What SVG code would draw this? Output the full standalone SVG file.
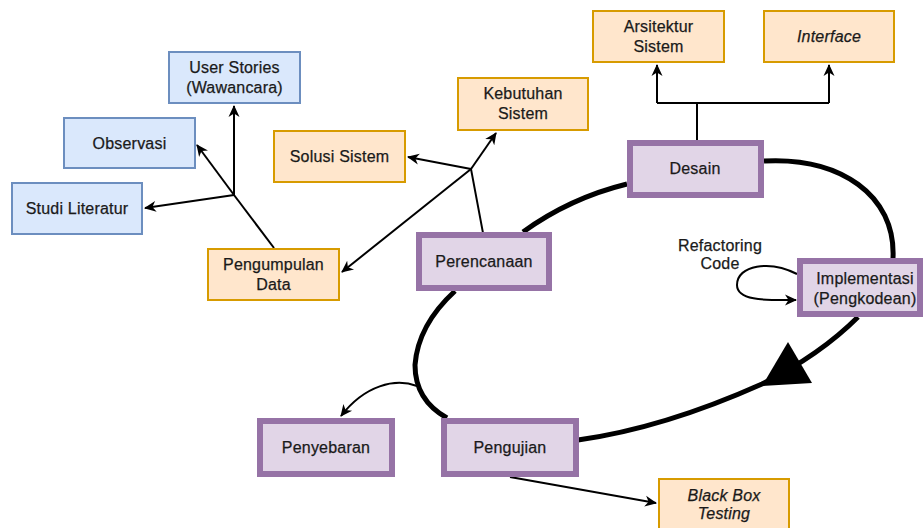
<svg xmlns="http://www.w3.org/2000/svg" width="923" height="528" viewBox="0 0 923 528">
<style>
text{font-family:"Liberation Sans",Arial,Helvetica,sans-serif;font-size:16px;fill:#1a1a1a;stroke:#1a1a1a;stroke-width:0.25px;text-anchor:middle;letter-spacing:0.2px}
.it{font-style:italic}
.blue{fill:#dae8fc;stroke:#6c8ebf;stroke-width:2}
.orange{fill:#ffe6cc;stroke:#d79b00;stroke-width:2}
.purple{fill:#e1d5e7;stroke:#9673a6;stroke-width:6}
.thin{fill:none;stroke:#000;stroke-width:2}
.thick{fill:none;stroke:#000;stroke-width:5}
.arr{marker-end:url(#ah)}
</style>
<defs>
<marker id="ah" markerUnits="userSpaceOnUse" markerWidth="14" markerHeight="14" refX="11" refY="7" orient="auto">
<path d="M0,1.5 L12,7 L0,12.5 L3.5,7 z" fill="#000"/>
</marker>
</defs>
<g id="connectors">
<path class="thin" d="M274,248 L234,195"/>
<path class="thin arr" d="M234,195 L197,145"/>
<path class="thin arr" d="M234,195 L234,106"/>
<path class="thin arr" d="M234,195 L145,208"/>
<path class="thin" d="M483,233 L471,169"/>
<path class="thin arr" d="M471,169 L408,157"/>
<path class="thin arr" d="M471,169 L496,133"/>
<path class="thin arr" d="M471,169 L342,272"/>
<path class="thin" d="M697,140 V103 M657,103 H829"/>
<path class="thin arr" d="M657,103 V65"/>
<path class="thin arr" d="M829,103 V65"/>
<path class="thick" d="M523,232 Q570,198 627,184"/>
<path class="thick" d="M764,161 C840,157 896,195 893,258"/>
<path class="thick" d="M858,317 C830,345 800,365 762,384 C715,405 650,430 578,440"/>
<polygon points="788,342 762,386 812,383" fill="#000"/>
<path class="thick" d="M455,291 Q418,325 415,365 Q415,400 447,418"/>
<path class="thin arr" d="M417,386 C395,378 365,385 341,416"/>
<path class="thin arr" d="M510,477 L656,503"/>
<path class="thin arr" d="M797,274 C770,260 737,265 737,285 C737,302 770,300 796,300"/>
</g>
<g id="user-stories"><rect class="blue" x="169" y="52" width="131" height="51"/><text x="234.5" y="73">User Stories</text><text x="234.5" y="93">(Wawancara)</text></g>
<g id="observasi"><rect class="blue" x="64" y="118" width="131" height="50"/><text x="129.5" y="148.5">Observasi</text></g>
<g id="studi-literatur"><rect class="blue" x="12" y="183" width="130" height="51"/><text x="77" y="214">Studi Literatur</text></g>
<g id="pengumpulan-data"><rect class="orange" x="208" y="249" width="131" height="51"/><text x="273.5" y="270">Pengumpulan</text><text x="273.5" y="290">Data</text></g>
<g id="solusi-sistem"><rect class="orange" x="274" y="131" width="131" height="51"/><text x="339.5" y="162">Solusi Sistem</text></g>
<g id="kebutuhan-sistem"><rect class="orange" x="458" y="78" width="130" height="52"/><text x="523" y="99">Kebutuhan</text><text x="523" y="119">Sistem</text></g>
<g id="arsitektur-sistem"><rect class="orange" x="593" y="11" width="131" height="51"/><text x="658.5" y="32">Arsitektur</text><text x="658.5" y="52">Sistem</text></g>
<g id="interface"><rect class="orange" x="764" y="11" width="130" height="51"/><text class="it" x="829" y="42">Interface</text></g>
<g id="desain"><rect class="purple" x="630" y="143" width="131" height="52"/><text x="695" y="174">Desain</text></g>
<g id="perencanaan"><rect class="purple" x="419" y="235" width="130" height="53"/><text x="484" y="267">Perencanaan</text></g>
<g id="implementasi"><rect class="purple" x="800" y="261" width="120" height="53"/><text x="865" y="283.5">Implementasi</text><text x="865" y="303.5">(Pengkodean)</text></g>
<g id="refactoring-label"><text x="720" y="250.5">Refactoring</text><text x="720" y="268.5">Code</text></g>
<g id="penyebaran"><rect class="purple" x="260" y="421" width="132" height="53"/><text x="326" y="453">Penyebaran</text></g>
<g id="pengujian"><rect class="purple" x="444" y="421" width="132" height="53"/><text x="510" y="453">Pengujian</text></g>
<g id="black-box"><rect class="orange" x="659" y="479" width="130" height="60"/><text class="it" x="724" y="500.5">Black Box</text><text class="it" x="724" y="518.5">Testing</text></g>
</svg>
